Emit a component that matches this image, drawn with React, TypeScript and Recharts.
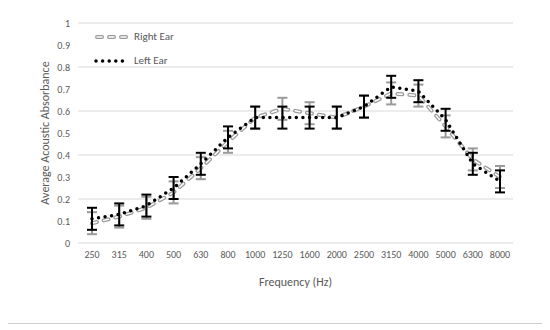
import { LineChart, Line, XAxis, YAxis, CartesianGrid, ErrorBar } from 'recharts'

const freqs = ['250', '315', '400', '500', '630', '800', '1000', '1250', '1600', '2000', '2500', '3150', '4000', '5000', '6300', '8000']
const rightEar = [0.09, 0.12, 0.16, 0.23, 0.34, 0.46, 0.57, 0.61, 0.59, 0.57, 0.62, 0.68, 0.67, 0.53, 0.38, 0.3]
const leftEar = [0.11, 0.13, 0.17, 0.25, 0.36, 0.48, 0.57, 0.57, 0.57, 0.57, 0.62, 0.71, 0.69, 0.56, 0.36, 0.28]
const rightErr = [0.05, 0.05, 0.05, 0.05, 0.05, 0.05, 0.05, 0.05, 0.05, 0.05, 0.05, 0.05, 0.05, 0.05, 0.05, 0.05]
const leftErr = [0.05, 0.05, 0.05, 0.05, 0.05, 0.05, 0.05, 0.05, 0.05, 0.05, 0.05, 0.05, 0.05, 0.05, 0.05, 0.05]
const yTicks = [0, 0.1, 0.2, 0.3, 0.4, 0.5, 0.6, 0.7, 0.8, 0.9, 1]

const data = freqs.map((f, i) => ({
  freq: f,
  right: rightEar[i],
  left: leftEar[i],
  rightErr: rightErr[i],
  leftErr: leftErr[i],
}))

const FONT = 'Calibri, Lato, sans-serif'
const TXT = '#595959'
const GREY = '#9a9a9a'

// legend drawn by hand, placed over the plot like in the original
function EarLegend() {
  return (
    <div style={{ position: 'absolute', left: 86, top: 17, fontFamily: FONT, fontSize: 11, color: TXT, lineHeight: '24px' }}>
      <div style={{ display: 'flex', alignItems: 'center' }}>
        <svg width={38} height={10}>
          <line x1={3} y1={5} x2={35} y2={5} stroke={GREY} strokeWidth={4} strokeDasharray="5 7" strokeLinecap="round" />
          <line x1={3} y1={5} x2={35} y2={5} stroke="#fff" strokeWidth={1.5} strokeDasharray="5 7" strokeLinecap="round" />
        </svg>
        <span style={{ marginLeft: 2 }}>Right Ear</span>
      </div>
      <div style={{ display: 'flex', alignItems: 'center' }}>
        <svg width={38} height={10}>
          <line x1={2} y1={5} x2={34} y2={5} stroke="#000" strokeWidth={3.5} strokeDasharray="0 6.6" strokeLinecap="round" />
        </svg>
        <span style={{ marginLeft: 2 }}>Left Ear</span>
      </div>
    </div>
  )
}

export default function App() {
  return (
    <div style={{ position: 'relative', width: 537, height: 317, marginLeft: -1, marginTop: -1, background: '#fff', border: '1px solid #cfcfcf', boxSizing: 'border-box' }}>
      <div style={{ position: 'absolute', left: 0, top: 0 }}>
        <LineChart width={535} height={315} data={data} margin={{ top: 15, right: 30, left: 20, bottom: 35 }}>
          <CartesianGrid vertical={false} stroke="#d9d9d9" />
          <XAxis
            dataKey="freq"
            interval={0}
            padding={{ left: 14, right: 13 }}
            axisLine={false}
            tickLine={false}
            tick={{ fill: TXT, fontSize: 10, fontFamily: FONT }}
            height={45}
            label={{ value: 'Frequency (Hz)', position: 'insideBottom', offset: 2, fill: TXT, fontSize: 12, fontFamily: FONT }}
          />
          <YAxis
            domain={[0, 1]}
            ticks={yTicks}
            axisLine={false}
            tickLine={false}
            width={50}
            tick={{ fill: TXT, fontSize: 10, fontFamily: FONT }}
            label={{ value: 'Average Acoustic Absorbance', angle: -90, position: 'insideLeft', offset: 17, style: { textAnchor: 'middle' }, fill: TXT, fontSize: 12, fontFamily: FONT }}
          />
          <Line dataKey="right" stroke={GREY} strokeWidth={4} strokeDasharray="5 7" strokeLinecap="round" dot={false} isAnimationActive={false}>
            <ErrorBar dataKey="rightErr" direction="y" width={5} stroke={GREY} strokeWidth={2} />
          </Line>
          <Line dataKey="right" stroke="#fff" strokeWidth={1.5} strokeDasharray="5 7" strokeLinecap="round" dot={false} isAnimationActive={false} />
          <Line dataKey="left" stroke="#000" strokeWidth={3.5} strokeDasharray="0 6.6" strokeLinecap="round" dot={false} isAnimationActive={false}>
            <ErrorBar dataKey="leftErr" direction="y" width={5} stroke="#000" strokeWidth={2} />
          </Line>
        </LineChart>
      </div>
      <EarLegend />
    </div>
  )
}
